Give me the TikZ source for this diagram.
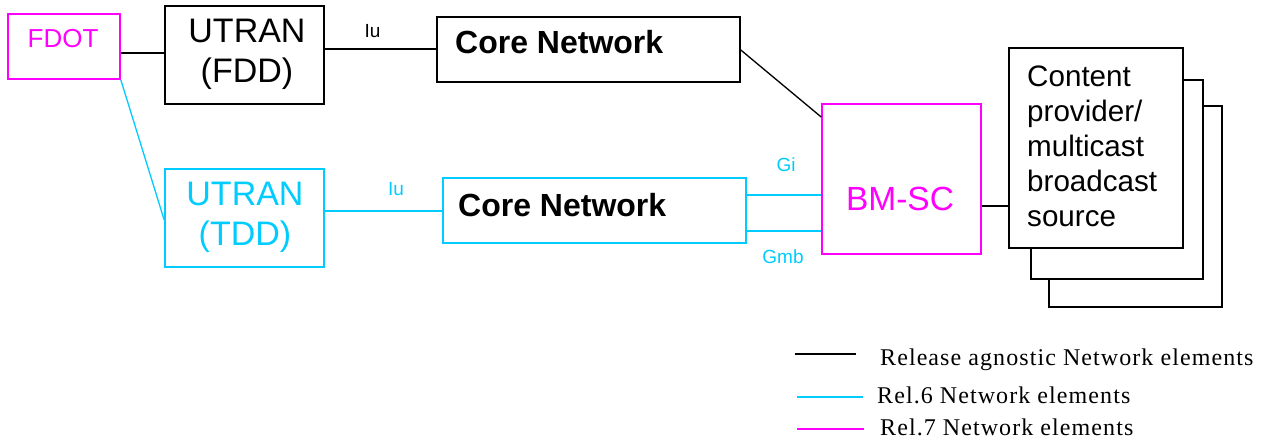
\documentclass[tikz,border=0pt]{standalone}
\usepackage{fontspec}
\setmainfont{Liberation Sans}
\newfontfamily\legendfont[LetterSpace=4.5]{Liberation Serif}
\definecolor{rsix}{RGB}{0,204,255}
\definecolor{rseven}{RGB}{255,0,255}
\begin{document}
\begin{tikzpicture}[x=1pt,y=-1pt,
  elem/.style={draw,line width=1.6pt,inner sep=0pt,fill=white},
  conn/.style={line width=1.3pt},
  big/.style={font=\fontsize{34}{40}\selectfont,align=center,inner sep=0pt},
  bold/.style={font=\fontsize{32}{40}\selectfont\bfseries,inner sep=0pt},
  small/.style={font=\fontsize{19}{22}\selectfont,inner sep=0pt},
  leg/.style={font=\legendfont\fontsize{24}{28}\selectfont,inner sep=0pt,anchor=west}]
\useasboundingbox (0,0) rectangle (1266,441);
% boxes
\node[elem,draw=rseven,minimum width=112pt,minimum height=65pt] (fdot) at (64,46.5) {};
\node[elem,minimum width=159pt,minimum height=98pt] (utf) at (244.5,55) {};
\node[elem,minimum width=303pt,minimum height=65pt] (cn1) at (588.5,49.5) {};
\node[elem,draw=rseven,minimum width=159pt,minimum height=150pt] (bmsc) at (901.5,179) {};
\node[elem,minimum width=173pt,minimum height=201pt] (cp3) at (1135.5,206.5) {};
\node[elem,minimum width=172pt,minimum height=199pt] (cp2) at (1117,179.5) {};
\node[elem,minimum width=174pt,minimum height=200pt] (cp1) at (1096,148) {};
\node[elem,draw=rsix,minimum width=159pt,minimum height=98pt] (utt) at (244.5,218) {};
\node[elem,draw=rsix,minimum width=303pt,minimum height=65pt] (cn2) at (594.5,210.5) {};
% texts
\node[inner sep=0pt,text=rseven,font=\fontsize{26}{30}\selectfont] (tfdot) at (63,39) {FDOT};
\node[big] (tutf) at (247,54) {UTRAN\\(FDD)};
\node[bold,anchor=west] (tcn1) at (455,42) {Core Network};
\node[big,text=rsix] (tutt) at (245,217) {UTRAN\\(TDD)};
\node[bold,anchor=west] (tcn2) at (458,205) {Core Network};
\node[inner sep=0pt,text=rseven,font=\fontsize{33.5}{40}\selectfont] (tbmsc) at (900,199) {BM-SC};
\node[inner sep=0pt,anchor=west,align=left,font=\fontsize{29.6}{35}\selectfont] (tcp) at (1027,146) {Content\\provider/\\multicast\\broadcast\\source};
% connectors
\draw[conn] (fdot.east |- 0,53) -- (utf.west |- 0,53);
\draw[conn] (utf.east |- 0,49) -- node[small,above=11pt,xshift=-8pt] (iu1) {Iu} (cn1.west |- 0,49);
\draw[conn] (cn1.east |- 0,50) -- (bmsc.west |- 0,117);
\draw[conn] (bmsc.east |- 0,206) -- (cp1.west |- 0,206);
\draw[conn,rsix] (fdot.south east) -- (utt.west |- 0,220);
\draw[conn,rsix] (utt.east |- 0,211) -- (cn2.west |- 0,211);
\node[small,text=rsix] (iu2) at (396,189) {Iu};
\draw[conn,rsix] (cn2.east |- 0,195) -- (bmsc.west |- 0,195);
\draw[conn,rsix] (cn2.east |- 0,231) -- (bmsc.west |- 0,231);
\node[small,text=rsix] (gi) at (786,165) {Gi};
\node[small,text=rsix] (gmb) at (783,257) {Gmb};
% legend
\coordinate (l1a) at (795,354); \coordinate (l1b) at (856,354);
\coordinate (l2a) at (797,397); \coordinate (l2b) at (863,397);
\coordinate (l3a) at (797,429); \coordinate (l3b) at (864,429);
\draw[conn] (l1a) -- (l1b);
\draw[conn,rsix] (l2a) -- (l2b);
\draw[conn,rseven] (l3a) -- (l3b);
\node[leg] (lt1) at (880,360) {Release agnostic Network elements};
\node[leg] (lt2) at (877,395) {Rel.6 Network elements};
\node[leg] (lt3) at (880,427) {Rel.7 Network elements};
\end{tikzpicture}
\end{document}
